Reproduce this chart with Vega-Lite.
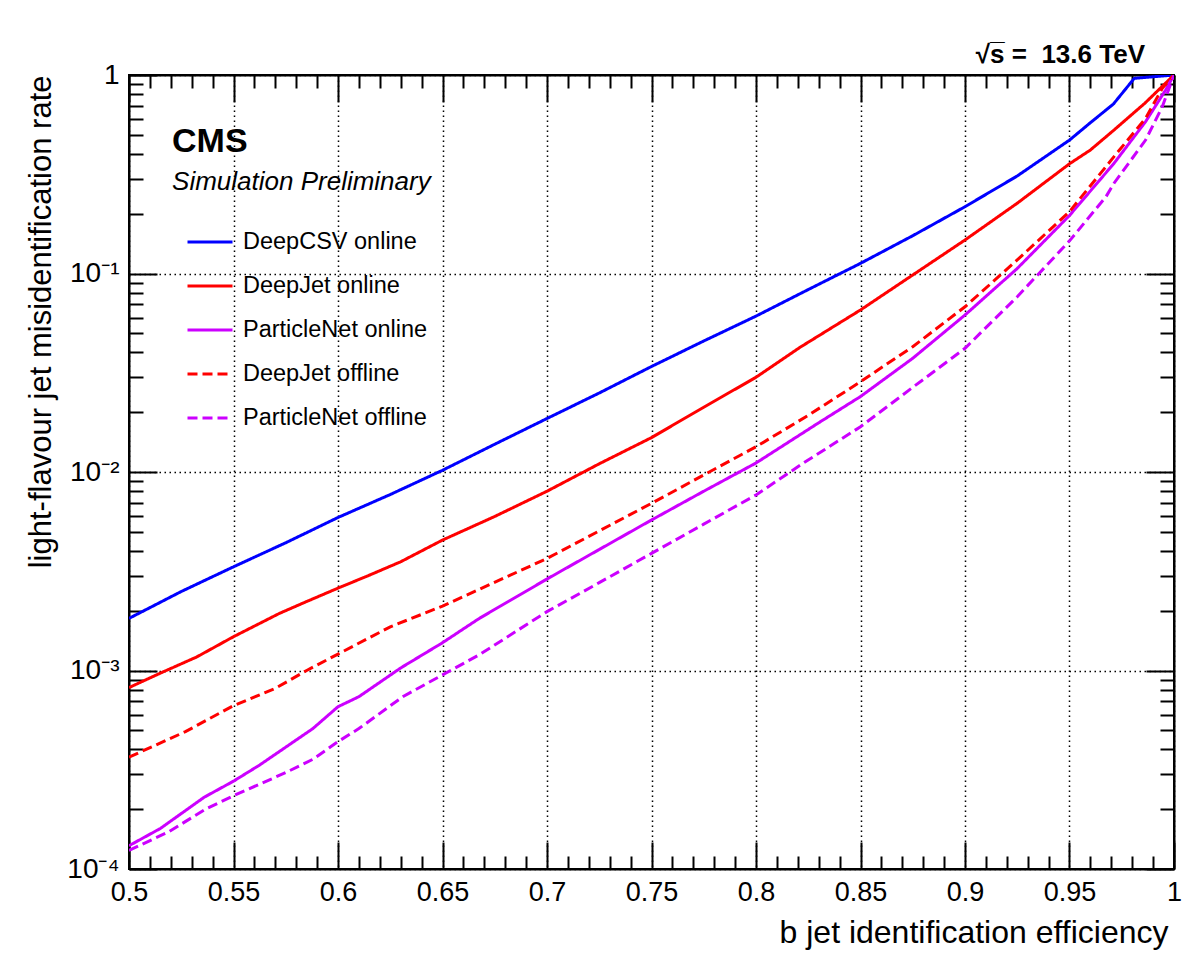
{
  "$schema": "https://vega.github.io/schema/vega-lite/v6.json",
  "autosize": {"type": "none"},
  "width": 1045,
  "height": 794,
  "padding": {"left": 129, "top": 75, "right": 10, "bottom": 91},
  "background": "white",
  "config": {
    "view": {"stroke": "black", "strokeWidth": 2},
    "font": "Liberation Sans"
  },
  "title": {"text": "√s̅ = \u00a013.6 TeV", "anchor": "end", "orient": "top", "frame": "group", "fontSize": 26, "font": "Liberation Sans", "fontWeight": "bold", "baseline": "alphabetic", "offset": 10, "dy": 38, "dx": -29, "color": "black"},
  "datasets": {
    "curves": [
      {"series": "DeepCSV online", "eff": 0.5, "rate": 0.00183},
      {"series": "DeepCSV online", "eff": 0.525, "rate": 0.0025},
      {"series": "DeepCSV online", "eff": 0.55, "rate": 0.00333},
      {"series": "DeepCSV online", "eff": 0.575, "rate": 0.0044},
      {"series": "DeepCSV online", "eff": 0.6, "rate": 0.0059},
      {"series": "DeepCSV online", "eff": 0.625, "rate": 0.0077},
      {"series": "DeepCSV online", "eff": 0.65, "rate": 0.0102},
      {"series": "DeepCSV online", "eff": 0.675, "rate": 0.0138},
      {"series": "DeepCSV online", "eff": 0.7, "rate": 0.0186},
      {"series": "DeepCSV online", "eff": 0.725, "rate": 0.025},
      {"series": "DeepCSV online", "eff": 0.75, "rate": 0.034},
      {"series": "DeepCSV online", "eff": 0.775, "rate": 0.0457},
      {"series": "DeepCSV online", "eff": 0.8, "rate": 0.061},
      {"series": "DeepCSV online", "eff": 0.825, "rate": 0.083},
      {"series": "DeepCSV online", "eff": 0.85, "rate": 0.1125},
      {"series": "DeepCSV online", "eff": 0.875, "rate": 0.155},
      {"series": "DeepCSV online", "eff": 0.9, "rate": 0.217},
      {"series": "DeepCSV online", "eff": 0.925, "rate": 0.31},
      {"series": "DeepCSV online", "eff": 0.95, "rate": 0.47},
      {"series": "DeepCSV online", "eff": 0.96, "rate": 0.575},
      {"series": "DeepCSV online", "eff": 0.971, "rate": 0.714},
      {"series": "DeepCSV online", "eff": 0.981, "rate": 0.962},
      {"series": "DeepCSV online", "eff": 1.0, "rate": 1.0},

      {"series": "DeepJet online", "eff": 0.5, "rate": 0.00082},
      {"series": "DeepJet online", "eff": 0.515, "rate": 0.00097},
      {"series": "DeepJet online", "eff": 0.5324, "rate": 0.00117},
      {"series": "DeepJet online", "eff": 0.55, "rate": 0.00148},
      {"series": "DeepJet online", "eff": 0.572, "rate": 0.00194},
      {"series": "DeepJet online", "eff": 0.583, "rate": 0.00218},
      {"series": "DeepJet online", "eff": 0.6, "rate": 0.0026},
      {"series": "DeepJet online", "eff": 0.614, "rate": 0.00299},
      {"series": "DeepJet online", "eff": 0.63, "rate": 0.00353},
      {"series": "DeepJet online", "eff": 0.65, "rate": 0.00454},
      {"series": "DeepJet online", "eff": 0.675, "rate": 0.00597},
      {"series": "DeepJet online", "eff": 0.7, "rate": 0.008},
      {"series": "DeepJet online", "eff": 0.725, "rate": 0.011},
      {"series": "DeepJet online", "eff": 0.75, "rate": 0.0149},
      {"series": "DeepJet online", "eff": 0.775, "rate": 0.0212},
      {"series": "DeepJet online", "eff": 0.8, "rate": 0.03},
      {"series": "DeepJet online", "eff": 0.8211, "rate": 0.0425},
      {"series": "DeepJet online", "eff": 0.85, "rate": 0.0655},
      {"series": "DeepJet online", "eff": 0.875, "rate": 0.0983},
      {"series": "DeepJet online", "eff": 0.9, "rate": 0.1475},
      {"series": "DeepJet online", "eff": 0.925, "rate": 0.226},
      {"series": "DeepJet online", "eff": 0.95, "rate": 0.357},
      {"series": "DeepJet online", "eff": 0.96, "rate": 0.419},
      {"series": "DeepJet online", "eff": 0.971, "rate": 0.525},
      {"series": "DeepJet online", "eff": 0.986, "rate": 0.72},
      {"series": "DeepJet online", "eff": 1.0, "rate": 1.0},

      {"series": "ParticleNet online", "eff": 0.5, "rate": 0.000131},
      {"series": "ParticleNet online", "eff": 0.515, "rate": 0.00016},
      {"series": "ParticleNet online", "eff": 0.536, "rate": 0.00023},
      {"series": "ParticleNet online", "eff": 0.55, "rate": 0.000277},
      {"series": "ParticleNet online", "eff": 0.5625, "rate": 0.000334},
      {"series": "ParticleNet online", "eff": 0.578, "rate": 0.000432},
      {"series": "ParticleNet online", "eff": 0.588, "rate": 0.00051},
      {"series": "ParticleNet online", "eff": 0.6, "rate": 0.000657},
      {"series": "ParticleNet online", "eff": 0.61, "rate": 0.000738},
      {"series": "ParticleNet online", "eff": 0.63, "rate": 0.00103},
      {"series": "ParticleNet online", "eff": 0.65, "rate": 0.00138},
      {"series": "ParticleNet online", "eff": 0.6676, "rate": 0.00183},
      {"series": "ParticleNet online", "eff": 0.7, "rate": 0.00289},
      {"series": "ParticleNet online", "eff": 0.725, "rate": 0.00407},
      {"series": "ParticleNet online", "eff": 0.75, "rate": 0.00573},
      {"series": "ParticleNet online", "eff": 0.775, "rate": 0.008},
      {"series": "ParticleNet online", "eff": 0.8, "rate": 0.0111},
      {"series": "ParticleNet online", "eff": 0.83, "rate": 0.0177},
      {"series": "ParticleNet online", "eff": 0.85, "rate": 0.024},
      {"series": "ParticleNet online", "eff": 0.875, "rate": 0.0374},
      {"series": "ParticleNet online", "eff": 0.9, "rate": 0.0618},
      {"series": "ParticleNet online", "eff": 0.925, "rate": 0.106},
      {"series": "ParticleNet online", "eff": 0.95, "rate": 0.196},
      {"series": "ParticleNet online", "eff": 0.9713, "rate": 0.359},
      {"series": "ParticleNet online", "eff": 0.9864, "rate": 0.582},
      {"series": "ParticleNet online", "eff": 0.996, "rate": 0.84},
      {"series": "ParticleNet online", "eff": 1.0, "rate": 1.0},

      {"series": "DeepJet offline", "eff": 0.5, "rate": 0.000366},
      {"series": "DeepJet offline", "eff": 0.511, "rate": 0.000413},
      {"series": "DeepJet offline", "eff": 0.527, "rate": 0.000492},
      {"series": "DeepJet offline", "eff": 0.55, "rate": 0.000665},
      {"series": "DeepJet offline", "eff": 0.57, "rate": 0.000813},
      {"series": "DeepJet offline", "eff": 0.585, "rate": 0.001},
      {"series": "DeepJet offline", "eff": 0.6, "rate": 0.00121},
      {"series": "DeepJet offline", "eff": 0.625, "rate": 0.00166},
      {"series": "DeepJet offline", "eff": 0.65, "rate": 0.00211},
      {"series": "DeepJet offline", "eff": 0.6675, "rate": 0.00256},
      {"series": "DeepJet offline", "eff": 0.7, "rate": 0.00367},
      {"series": "DeepJet offline", "eff": 0.725, "rate": 0.00505},
      {"series": "DeepJet offline", "eff": 0.75, "rate": 0.00695},
      {"series": "DeepJet offline", "eff": 0.775, "rate": 0.00966},
      {"series": "DeepJet offline", "eff": 0.8, "rate": 0.0134},
      {"series": "DeepJet offline", "eff": 0.825, "rate": 0.0193},
      {"series": "DeepJet offline", "eff": 0.85, "rate": 0.0285},
      {"series": "DeepJet offline", "eff": 0.875, "rate": 0.0428},
      {"series": "DeepJet offline", "eff": 0.9, "rate": 0.068},
      {"series": "DeepJet offline", "eff": 0.925, "rate": 0.117},
      {"series": "DeepJet offline", "eff": 0.95, "rate": 0.205},
      {"series": "DeepJet offline", "eff": 0.9713, "rate": 0.388},
      {"series": "DeepJet offline", "eff": 0.9864, "rate": 0.605},
      {"series": "DeepJet offline", "eff": 0.9944, "rate": 0.857},
      {"series": "DeepJet offline", "eff": 1.0, "rate": 1.0},

      {"series": "ParticleNet offline", "eff": 0.5, "rate": 0.000124},
      {"series": "ParticleNet offline", "eff": 0.519, "rate": 0.000154},
      {"series": "ParticleNet offline", "eff": 0.5366, "rate": 0.0002},
      {"series": "ParticleNet offline", "eff": 0.55, "rate": 0.000234},
      {"series": "ParticleNet offline", "eff": 0.575, "rate": 0.000306},
      {"series": "ParticleNet offline", "eff": 0.588, "rate": 0.000357},
      {"series": "ParticleNet offline", "eff": 0.6, "rate": 0.000438},
      {"series": "ParticleNet offline", "eff": 0.61, "rate": 0.00051},
      {"series": "ParticleNet offline", "eff": 0.631, "rate": 0.000738},
      {"series": "ParticleNet offline", "eff": 0.65, "rate": 0.00095},
      {"series": "ParticleNet offline", "eff": 0.6676, "rate": 0.0012},
      {"series": "ParticleNet offline", "eff": 0.7, "rate": 0.00198},
      {"series": "ParticleNet offline", "eff": 0.725, "rate": 0.00277},
      {"series": "ParticleNet offline", "eff": 0.75, "rate": 0.00389},
      {"series": "ParticleNet offline", "eff": 0.775, "rate": 0.00546},
      {"series": "ParticleNet offline", "eff": 0.8, "rate": 0.00766},
      {"series": "ParticleNet offline", "eff": 0.8227, "rate": 0.0111},
      {"series": "ParticleNet offline", "eff": 0.85, "rate": 0.0169},
      {"series": "ParticleNet offline", "eff": 0.875, "rate": 0.0267},
      {"series": "ParticleNet offline", "eff": 0.9, "rate": 0.042},
      {"series": "ParticleNet offline", "eff": 0.925, "rate": 0.0764},
      {"series": "ParticleNet offline", "eff": 0.95, "rate": 0.146},
      {"series": "ParticleNet offline", "eff": 0.9675, "rate": 0.244},
      {"series": "ParticleNet offline", "eff": 0.9713, "rate": 0.285},
      {"series": "ParticleNet offline", "eff": 0.9864, "rate": 0.47},
      {"series": "ParticleNet offline", "eff": 0.9944, "rate": 0.692},
      {"series": "ParticleNet offline", "eff": 1.0, "rate": 1.0}
    ]
  },
  "layer": [
    {
      "data": {"name": "curves"},
      "mark": {"type": "line", "strokeWidth": 3, "clip": true},
      "encoding": {
        "x": {
          "field": "eff", "type": "quantitative",
          "scale": {"domain": [0.5, 1.0], "nice": false, "zero": false},
          "axis": {
            "orient": "bottom",
            "title": "b jet identification efficiency",
            "titleFont": "Liberation Sans", "titleFontSize": 32, "titleFontWeight": "normal", "titleColor": "black",
            "titleAlign": "right", "titleBaseline": "alphabetic", "titleX": 1039, "titleY": 73, "titleAnchor": null,
            "tickCount": 200,
            "values": [0.5,0.51,0.52,0.53,0.54,0.55,0.56,0.57,0.58,0.59,0.6,0.61,0.62,0.63,0.64,0.65,0.66,0.67,0.68,0.69,0.7,0.71,0.72,0.73,0.74,0.75,0.76,0.77,0.78,0.79,0.8,0.81,0.82,0.83,0.84,0.85,0.86,0.87,0.88,0.89,0.9,0.91,0.92,0.93,0.94,0.95,0.96,0.97,0.98,0.99,1.0],
            "labelExpr": "abs(datum.value*20 - round(datum.value*20)) < 0.000001 ? format(datum.value, '') : ''",
            "labelFont": "Liberation Sans", "labelFontSize": 27, "labelColor": "black",
            "labelBaseline": "alphabetic", "labelPadding": 58, "labelFlush": false, "labelOverlap": false, "labelBound": false,
            "tickSize": {"condition": {"test": "abs(datum.value*20 - round(datum.value*20)) < 0.000001", "value": -27}, "value": -13},
            "tickColor": "black", "tickWidth": 2,
            "domainColor": "black", "domainWidth": 2,
            "grid": true, "gridColor": "black", "gridDash": [1.5, 3.5], "gridWidth": 1.5,
            "gridOpacity": {"condition": {"test": "abs(datum.value*20 - round(datum.value*20)) < 0.000001", "value": 1}, "value": 0}
          }
        },
        "y": {
          "field": "rate", "type": "quantitative",
          "scale": {"type": "log", "domain": [0.0001, 1], "nice": false},
          "axis": {
            "orient": "left",
            "title": "light-flavour jet misidentification rate",
            "titleFont": "Liberation Sans", "titleFontSize": 31, "titleFontWeight": "normal", "titleColor": "black",
            "titleAngle": -90, "titleAlign": "right", "titleBaseline": "alphabetic", "titleX": -79, "titleY": 0, "titleAnchor": null,
            "tickCount": 200,
            "values": [0.0001,0.0002,0.0003,0.0004,0.0005,0.0006,0.0007,0.0008,0.0009,0.001,0.002,0.003,0.004,0.005,0.006,0.007,0.008,0.009,0.01,0.02,0.03,0.04,0.05,0.06,0.07,0.08,0.09,0.1,0.2,0.3,0.4,0.5,0.6,0.7,0.8,0.9,1],
            "labelExpr": "datum.value == 1 ? '1' : datum.value == 0.1 ? '10⁻¹' : datum.value == 0.01 ? '10⁻²' : datum.value == 0.001 ? '10⁻³' : datum.value == 0.0001 ? '10⁻⁴' : ''",
            "labelFont": "Liberation Sans", "labelFontSize": 28, "labelColor": "black",
            "labelBaseline": "middle", "labelPadding": 38, "labelFlush": false, "labelOverlap": false, "labelBound": false,
            "tickSize": {"condition": {"test": "abs(log(datum.value)/LN10 - round(log(datum.value)/LN10)) < 0.000001", "value": -28}, "value": -14},
            "tickColor": "black", "tickWidth": 2,
            "domainColor": "black", "domainWidth": 2,
            "grid": true, "gridColor": "black", "gridDash": [1.5, 3.5], "gridWidth": 1.5,
            "gridOpacity": {"condition": {"test": "abs(log(datum.value)/LN10 - round(log(datum.value)/LN10)) < 0.000001", "value": 1}, "value": 0}
          }
        },
        "color": {
          "field": "series", "type": "nominal",
          "scale": {
            "domain": ["DeepCSV online", "DeepJet online", "ParticleNet online", "DeepJet offline", "ParticleNet offline"],
            "range": ["#0000ff", "#ff0000", "#cc00ff", "#ff0000", "#cc00ff"]
          },
          "legend": {
            "orient": "none", "legendX": 57, "legendY": 143, "title": null, "padding": 0,
            "symbolType": "stroke", "symbolSize": 2025, "symbolStrokeWidth": 3,
            "labelFont": "Liberation Sans", "labelFontSize": 23.5, "labelColor": "black", "labelOffset": 9,
            "rowPadding": 8, "labelLimit": 400
          }
        },
        "strokeDash": {
          "field": "series", "type": "nominal",
          "scale": {
            "domain": ["DeepCSV online", "DeepJet online", "ParticleNet online", "DeepJet offline", "ParticleNet offline"],
            "range": [[1, 0], [1, 0], [1, 0], [10, 5], [10, 5]]
          },
          "legend": {
            "orient": "none", "legendX": 57, "legendY": 143, "title": null, "padding": 0,
            "symbolType": "stroke", "symbolSize": 2025, "symbolStrokeWidth": 3,
            "labelFont": "Liberation Sans", "labelFontSize": 23.5, "labelColor": "black", "labelOffset": 9,
            "rowPadding": 8, "labelLimit": 400
          }
        }
      }
    },
    {
      "layer": [
        {
          "data": {"values": [{"label": "CMS", "eff": 0.5206, "rate": 0.409}]},
          "mark": {"type": "text", "align": "left", "baseline": "alphabetic", "font": "Liberation Sans", "fontWeight": "bold", "fontSize": 34, "color": "black"},
          "encoding": {
            "x": {
              "field": "eff", "type": "quantitative",
              "scale": {"domain": [0.5, 1.0], "nice": false, "zero": false},
              "axis": {
                "orient": "top", "title": null, "labels": false, "grid": false,
                "tickCount": 200,
                "values": [0.5,0.51,0.52,0.53,0.54,0.55,0.56,0.57,0.58,0.59,0.6,0.61,0.62,0.63,0.64,0.65,0.66,0.67,0.68,0.69,0.7,0.71,0.72,0.73,0.74,0.75,0.76,0.77,0.78,0.79,0.8,0.81,0.82,0.83,0.84,0.85,0.86,0.87,0.88,0.89,0.9,0.91,0.92,0.93,0.94,0.95,0.96,0.97,0.98,0.99,1.0],
                "tickSize": {"condition": {"test": "abs(datum.value*20 - round(datum.value*20)) < 0.000001", "value": -27}, "value": -13},
                "tickColor": "black", "tickWidth": 2,
                "domainColor": "black", "domainWidth": 2
              }
            },
            "y": {
              "field": "rate", "type": "quantitative",
              "scale": {"type": "log", "domain": [0.0001, 1], "nice": false},
              "axis": {
                "orient": "right", "title": null, "labels": false, "grid": false,
                "tickCount": 200,
                "values": [0.0001,0.0002,0.0003,0.0004,0.0005,0.0006,0.0007,0.0008,0.0009,0.001,0.002,0.003,0.004,0.005,0.006,0.007,0.008,0.009,0.01,0.02,0.03,0.04,0.05,0.06,0.07,0.08,0.09,0.1,0.2,0.3,0.4,0.5,0.6,0.7,0.8,0.9,1],
                "tickSize": {"condition": {"test": "abs(log(datum.value)/LN10 - round(log(datum.value)/LN10)) < 0.000001", "value": -28}, "value": -14},
                "tickColor": "black", "tickWidth": 2,
                "domainColor": "black", "domainWidth": 2
              }
            },
            "text": {"field": "label"}
          }
        },
        {
          "data": {"values": [{"label": "Simulation Preliminary", "eff": 0.5206, "rate": 0.2635}]},
          "mark": {"type": "text", "align": "left", "baseline": "alphabetic", "font": "Liberation Sans", "fontStyle": "italic", "fontSize": 26, "color": "black"},
          "encoding": {
            "x": {
              "field": "eff", "type": "quantitative",
              "scale": {"domain": [0.5, 1.0], "nice": false, "zero": false},
              "axis": {
                "orient": "top", "title": null, "labels": false, "grid": false,
                "tickCount": 200,
                "values": [0.5,0.51,0.52,0.53,0.54,0.55,0.56,0.57,0.58,0.59,0.6,0.61,0.62,0.63,0.64,0.65,0.66,0.67,0.68,0.69,0.7,0.71,0.72,0.73,0.74,0.75,0.76,0.77,0.78,0.79,0.8,0.81,0.82,0.83,0.84,0.85,0.86,0.87,0.88,0.89,0.9,0.91,0.92,0.93,0.94,0.95,0.96,0.97,0.98,0.99,1.0],
                "tickSize": {"condition": {"test": "abs(datum.value*20 - round(datum.value*20)) < 0.000001", "value": -27}, "value": -13},
                "tickColor": "black", "tickWidth": 2,
                "domainColor": "black", "domainWidth": 2
              }
            },
            "y": {
              "field": "rate", "type": "quantitative",
              "scale": {"type": "log", "domain": [0.0001, 1], "nice": false},
              "axis": {
                "orient": "right", "title": null, "labels": false, "grid": false,
                "tickCount": 200,
                "values": [0.0001,0.0002,0.0003,0.0004,0.0005,0.0006,0.0007,0.0008,0.0009,0.001,0.002,0.003,0.004,0.005,0.006,0.007,0.008,0.009,0.01,0.02,0.03,0.04,0.05,0.06,0.07,0.08,0.09,0.1,0.2,0.3,0.4,0.5,0.6,0.7,0.8,0.9,1],
                "tickSize": {"condition": {"test": "abs(log(datum.value)/LN10 - round(log(datum.value)/LN10)) < 0.000001", "value": -28}, "value": -14},
                "tickColor": "black", "tickWidth": 2,
                "domainColor": "black", "domainWidth": 2
              }
            },
            "text": {"field": "label"}
          }
        }
      ]
    }
  ],
  "resolve": {"axis": {"x": "independent", "y": "independent"}}
}
